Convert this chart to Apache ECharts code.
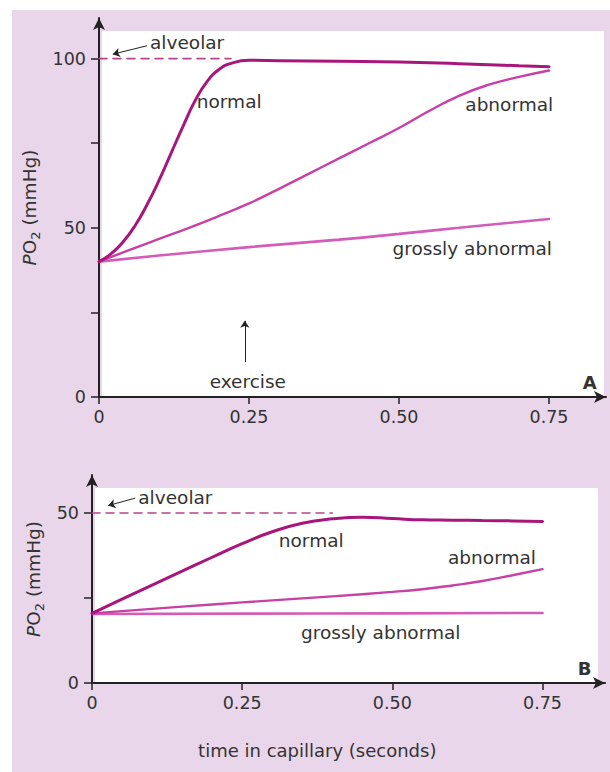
<!DOCTYPE html>
<html><head><meta charset="utf-8">
<script src="https://cdn.jsdelivr.net/npm/echarts@6/dist/echarts.min.js"></script>
<style>html,body{margin:0;padding:0;background:#fff}#c{width:610px;height:772px}</style>
</head><body><div id="c"></div>
<script>
// ---------- data ----------
const xTicks = [0, 0.25, 0.5, 0.75];
const xTickLabels = ['0', '0.25', '0.50', '0.75'];
const yTicksA = [0, 25, 50, 75, 100];
const yLabelsA = [0, 50, 100];
const yTicksB = [0, 25, 50];
const yLabelsB = [0, 50];

// Panel A
const normalA_t = [0, 0.02, 0.04, 0.06, 0.08, 0.10, 0.12, 0.14, 0.16, 0.18, 0.20, 0.22, 0.25, 0.30, 0.40, 0.50, 0.60, 0.70, 0.75];
const normalA_v = [40, 42.3, 45.8, 50.6, 56.8, 64, 72, 80, 87.5, 93.2, 96.8, 98.6, 99.5, 99.4, 99.2, 99, 98.5, 97.9, 97.6];
const abnormalA_t = [0, 0.05, 0.10, 0.15, 0.20, 0.25, 0.30, 0.35, 0.40, 0.45, 0.50, 0.55, 0.60, 0.65, 0.70, 0.75];
const abnormalA_v = [40, 43.4, 46.7, 50, 53.5, 57.2, 61.5, 66, 70.5, 75, 79.5, 84.5, 89, 92.3, 94.6, 96.5];
const grossA_t = [0, 0.10, 0.25, 0.40, 0.50, 0.60, 0.75];
const grossA_v = [40, 41.8, 44.3, 46.5, 48.2, 50, 52.6];
const alvA_t = [0, 0.22];
const alvA_v = [100, 100];

// Panel B
const normalB_t = [0, 0.05, 0.10, 0.15, 0.20, 0.25, 0.30, 0.35, 0.40, 0.45, 0.50, 0.55, 0.60, 0.65, 0.70, 0.75];
const normalB_v = [20.5, 24.7, 28.8, 32.9, 37, 41, 44.5, 47, 48.3, 48.8, 48.4, 48, 47.9, 47.8, 47.7, 47.5];
const abnormalB_t = [0, 0.10, 0.20, 0.30, 0.40, 0.50, 0.55, 0.60, 0.65, 0.70, 0.75];
const abnormalB_v = [20.5, 21.8, 23.1, 24.3, 25.5, 26.8, 27.6, 28.7, 30, 31.7, 33.5];
const grossB_t = [0, 0.25, 0.50, 0.75];
const grossB_v = [20.3, 20.4, 20.5, 20.6];
const alvB_t = [0, 0.40];
const alvB_v = [50, 50];

// ---------- layout / style ----------
const FONT = '"DejaVu Sans", "Noto Sans", sans-serif';
const TXT = '#333333';
const C_NORMAL = '#a8167c';
const C_ABN = '#c940a4';
const C_GROSS = '#d35cb8';
const C_DASH = '#b5458c';
const pairs = (t, v) => t.map((x, i) => [x, v[i]]);

function xAxisCfg(gi, max) {
  return {
    type: 'value', gridIndex: gi, min: 0, max: max,
    axisLine: { show: true, onZero: false, lineStyle: { color: '#222', width: 2 }, symbol: ['none', 'arrow'], symbolSize: [9, 12] },
    axisTick: { show: true, length: 7, lineStyle: { color: '#222', width: 1.5 }, customValues: xTicks },
    axisLabel: { customValues: xTicks, formatter: v => xTickLabels[xTicks.indexOf(v)] || '', fontSize: 17.5, color: TXT, margin: 11, fontFamily: FONT },
    splitLine: { show: false }
  };
}
function yAxisCfg(gi, max, ticks, labels) {
  return {
    type: 'value', gridIndex: gi, min: 0, max: max,
    name: '{i|P}{n|O}{s|2}{n| (mmHg)}', nameLocation: 'middle', nameGap: 39,
    nameTextStyle: {
      color: TXT, fontFamily: FONT, fontSize: 18.5,
      rich: {
        i: { fontStyle: 'italic', fontSize: 18.5, color: TXT, fontFamily: FONT, lineHeight: 24, verticalAlign: 'middle' },
        n: { fontSize: 18.5, color: TXT, fontFamily: FONT, lineHeight: 24, verticalAlign: 'middle' },
        s: { fontSize: 13, color: TXT, fontFamily: FONT, lineHeight: 12, verticalAlign: 'bottom' }
      }
    },
    axisLine: { show: true, onZero: false, lineStyle: { color: '#222', width: 2 }, symbol: ['none', 'arrow'], symbolSize: [9, 12] },
    axisTick: { show: true, length: 8, lineStyle: { color: '#222', width: 1.5 }, customValues: ticks },
    axisLabel: { customValues: labels, fontSize: 17.5, color: TXT, margin: 13, fontFamily: FONT },
    splitLine: { show: false }
  };
}
function lineSeries(gi, data, color, width, type) {
  return {
    type: 'line', xAxisIndex: gi, yAxisIndex: gi, data: data, smooth: 0.5, showSymbol: false, silent: true,
    lineStyle: { color: color, width: width, type: type || 'solid', cap: 'round' }, z: 3
  };
}

const chart = echarts.init(document.getElementById('c'), null, { renderer: 'svg', width: 610, height: 772 });

const alvSeriesA = lineSeries(0, pairs(alvA_t, alvA_v), C_DASH, 1.6, [8, 6]);
alvSeriesA.smooth = false;
alvSeriesA.markLine = {
  silent: true, symbol: ['none', 'arrow'], symbolSize: 7, label: { show: false },
  lineStyle: { color: '#222', width: 1, type: 'solid' },
  data: [
    [{ coord: [0.08, 103.8] }, { coord: [0.023, 101.3] }],
    [{ coord: [0.243, 10.3] }, { coord: [0.243, 22.5] }]
  ]
};
const alvSeriesB = lineSeries(1, pairs(alvB_t, alvB_v), C_DASH, 1.6, [8, 6]);
alvSeriesB.smooth = false;
alvSeriesB.markLine = {
  silent: true, symbol: ['none', 'arrow'], symbolSize: 7, label: { show: false },
  lineStyle: { color: '#222', width: 1, type: 'solid' },
  data: [
    [{ coord: [0.072, 54.4] }, { coord: [0.027, 52.2] }]
  ]
};

chart.setOption({
  backgroundColor: '#e9d6ea',
  animation: false,
  grid: [
    { left: 99, top: 18, width: 507, height: 379 },
    { left: 92, top: 475, width: 513, height: 208 }
  ],
  xAxis: [xAxisCfg(0, 0.845), xAxisCfg(1, 0.854)],
  yAxis: [yAxisCfg(0, 112, yTicksA, yLabelsA), yAxisCfg(1, 61.2, yTicksB, yLabelsB)],
  series: [
    alvSeriesA,
    lineSeries(0, pairs(grossA_t, grossA_v), C_GROSS, 2.6),
    lineSeries(0, pairs(abnormalA_t, abnormalA_v), C_ABN, 2.4),
    lineSeries(0, pairs(normalA_t, normalA_v), C_NORMAL, 3),
    alvSeriesB,
    lineSeries(1, pairs(grossB_t, grossB_v), C_GROSS, 2.6),
    lineSeries(1, pairs(abnormalB_t, abnormalB_v), C_ABN, 2.4),
    lineSeries(1, pairs(normalB_t, normalB_v), C_NORMAL, 3)
  ]
});

// annotations (positions in data coordinates)
const notes = [
  { g: 0, at: [0.085, 104.7], text: 'alveolar', align: 'left' },
  { g: 0, at: [0.163, 87.3], text: 'normal', align: 'left' },
  { g: 0, at: [0.757, 86.4], text: 'abnormal', align: 'right' },
  { g: 0, at: [0.755, 44.0], text: 'grossly abnormal', align: 'right' },
  { g: 0, at: [0.248, 4.7], text: 'exercise', align: 'center' },
  { g: 0, at: [0.818, 4.4], text: 'A', align: 'center', bold: true },
  { g: 1, at: [0.077, 54.7], text: 'alveolar', align: 'left' },
  { g: 1, at: [0.311, 42.0], text: 'normal', align: 'left' },
  { g: 1, at: [0.739, 37.0], text: 'abnormal', align: 'right' },
  { g: 1, at: [0.348, 15.0], text: 'grossly abnormal', align: 'left' },
  { g: 1, at: [0.82, 4.4], text: 'B', align: 'center', bold: true }
];
const graphics = [
  { type: 'rect', z: -10, silent: true, shape: { x: 0, y: 0, width: 12, height: 772 }, style: { fill: '#ffffff' } },
  { type: 'rect', z: -10, silent: true, shape: { x: 0, y: 0, width: 610, height: 10 }, style: { fill: '#ffffff' } },
  { type: 'rect', z: -10, silent: true, shape: { x: 102, y: 31, width: 502, height: 367 }, style: { fill: '#ffffff' } },
  { type: 'rect', z: -10, silent: true, shape: { x: 95, y: 488, width: 503, height: 196 }, style: { fill: '#ffffff' } }
];
notes.forEach(n => {
  const p = chart.convertToPixel({ gridIndex: n.g }, n.at);
  graphics.push({
    type: 'text', z: 20, silent: true, x: p[0], y: p[1],
    style: { text: n.text, fill: TXT, font: (n.bold ? 'bold 18px ' : '18.5px ') + FONT, align: n.align, verticalAlign: 'middle' }
  });
});
// x axis title
const tp = chart.convertToPixel({ gridIndex: 1 }, [0.375, 0]);
graphics.push({
  type: 'text', z: 20, silent: true, x: tp[0], y: 750,
  style: { text: 'time in capillary (seconds)', fill: TXT, font: '18px ' + FONT, align: 'center', verticalAlign: 'middle' }
});
chart.setOption({ graphic: graphics });
</script>
</body></html>
